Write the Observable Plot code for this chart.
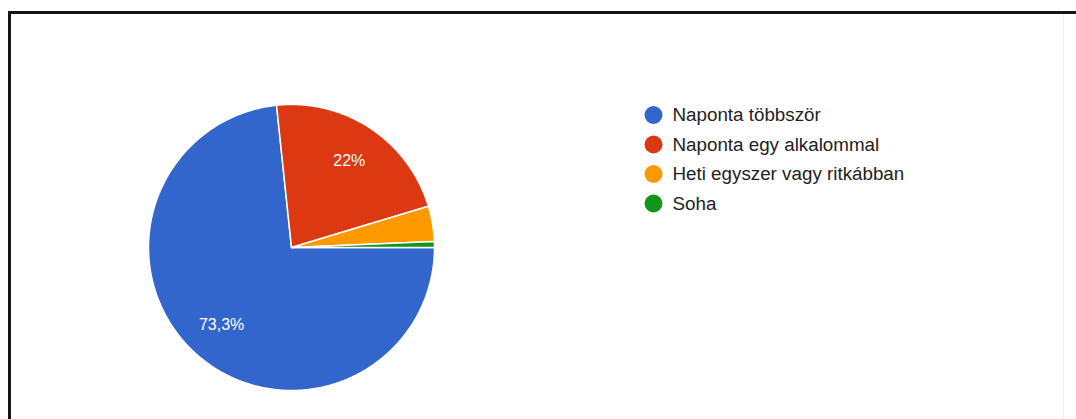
<!DOCTYPE html>
<html>
<head>
<meta charset="utf-8">
<script src="https://cdn.jsdelivr.net/npm/d3@7"></script>
<script src="https://cdn.jsdelivr.net/npm/@observablehq/plot@0.6"></script>
<style>
  html, body { margin: 0; padding: 0; background: #fff; }
  body { width: 1076px; height: 419px; overflow: hidden; position: relative; font-family: "Liberation Sans", Arial, sans-serif; }
  #frame { position: absolute; left: 8px; top: 11px; width: 1100px; height: 500px;
           border-top: 3px solid #151515; border-left: 3px solid #151515; pointer-events: none; }
  #rline { position: absolute; left: 1063px; top: 14px; width: 1px; height: 420px; background: #efefef; pointer-events: none; }
  #chart { position: absolute; left: 0; top: 0; }
</style>
</head>
<body>
<div id="chart"></div>
<div id="rline"></div>
<div id="frame"></div>
<script>
// ---- data ----
const categories = ["Naponta többször", "Naponta egy alkalommal", "Heti egyszer vagy ritkábban", "Soha"];
const counts = [110, 33, 6, 1];
const colors = ["#3366cc", "#dc3912", "#ff9900", "#109618"];

// ---- layout ----
const W = 1076, H = 419;
const cx = 291, cy = 247, R = 143;
const labelFrac = 0.73;
const legendX = 653, legendTop = 114.5, legendStep = 29.5, legendR = 9;

const total = d3.sum(counts);
const table = categories.map((c, i) => ({label: c, value: counts[i]}));
const arcs = d3.pie().sort(null).value(d => d.value)
  .startAngle(Math.PI / 2).endAngle(Math.PI / 2 + 2 * Math.PI)(table);

// polygon outline for each slice (center + arc samples)
const slicePts = [];
arcs.forEach(a => {
  const n = Math.max(2, Math.ceil((a.endAngle - a.startAngle) * 180 / Math.PI));
  slicePts.push({label: a.data.label, x: cx, y: cy});
  for (let k = 0; k <= n; k++) {
    const t = a.startAngle + (a.endAngle - a.startAngle) * k / n;
    slicePts.push({label: a.data.label, x: cx + R * Math.sin(t), y: cy - R * Math.cos(t)});
  }
});

const fmt = v => {
  const p = Math.round(v / total * 1000) / 10;
  return (Number.isInteger(p) ? String(p) : p.toFixed(1).replace(".", ",")) + "%";
};
const pctLabels = arcs.filter(a => a.data.value / total >= 0.05).map(a => {
  const m = (a.startAngle + a.endAngle) / 2;
  return {text: fmt(a.data.value), x: cx + R * labelFrac * Math.sin(m), y: cy - R * labelFrac * Math.cos(m)};
});

const legend = categories.map((c, i) => ({label: c, x: legendX, y: legendTop + i * legendStep}));

const chart = Plot.plot({
  width: W, height: H, margin: 0,
  style: {fontFamily: '"Liberation Sans", Arial, sans-serif', background: "transparent"},
  x: {type: "identity", axis: null},
  y: {type: "identity", axis: null},
  color: {domain: categories, range: colors},
  marks: [
    Plot.line(slicePts, {x: "x", y: "y", z: "label", fill: "label", stroke: "white", strokeWidth: 1.5, strokeLinejoin: "round", curve: "linear-closed"}),
    Plot.text(pctLabels, {x: "x", y: "y", text: "text", fill: "white", fontSize: 16}),
    Plot.dot(legend, {x: "x", y: "y", r: legendR, fill: "label", stroke: null}),
    Plot.text(legend, {x: "x", y: "y", text: "label", dx: 19, textAnchor: "start", fill: "#222", fontSize: 18.8})
  ]
});
document.getElementById("chart").appendChild(chart);
</script>
</body>
</html>
